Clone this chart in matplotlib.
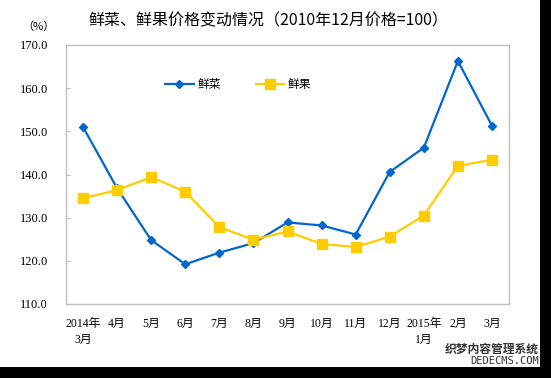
import matplotlib
matplotlib.use("Agg")
import matplotlib.pyplot as plt
from matplotlib.patches import Rectangle
import numpy as np

plt.rcParams["font.family"] = ["Liberation Serif", "Noto Sans CJK SC", "DejaVu Sans"]

months = ["2014年\n3月", "4月", "5月", "6月", "7月", "8月", "9月", "10月",
          "11月", "12月", "2015年\n1月", "2月", "3月"]
vegetables = [151.0, 136.8, 124.8, 119.2, 121.9, 124.1, 128.9, 128.2,
              126.1, 140.6, 146.2, 166.3, 151.3]
fruits = [134.5, 136.4, 139.4, 136.0, 127.8, 124.9, 126.8, 123.9,
          123.2, 125.6, 130.5, 142.0, 143.4]
y_ticks = [110, 120, 130, 140, 150, 160, 170]

W, H = 551, 378
fig = plt.figure(figsize=(W / 100, H / 100), dpi=100)
fig.patch.set_facecolor("white")
ax = fig.add_axes([66 / W, 1 - 304 / H, (509 - 66) / W, (304 - 45) / H])

x = np.arange(len(months))
ax.plot(x, vegetables, color="#0066CC", linewidth=1.6, marker="D",
        markersize=4.5, label="鲜菜")
ax.plot(x, fruits, color="#FFCC00", linewidth=1.6, marker="s",
        markersize=6.5, label="鲜果")

ax.set_xlim(-0.5, len(months) - 0.5)
ax.set_ylim(110, 170)
ax.set_yticks(y_ticks)
ax.set_yticklabels([f"{v:.1f}" for v in y_ticks], fontsize=9)
ax.set_xticks(x)
ax.set_xticklabels(months, fontsize=8.5, linespacing=1.45)
ax.tick_params(axis="x", length=0, pad=10)
ax.tick_params(axis="y", direction="in", length=3, color="#BFBFBF", pad=13)
for side in ax.spines.values():
    side.set_color("#BFBFBF")
    side.set_linewidth(1.0)

ax.legend(loc="upper left", bbox_to_anchor=(0.2, 0.915), ncol=2, frameon=False,
          handlelength=2.4, columnspacing=3.0, handletextpad=0.3,
          prop={"family": ["Noto Sans CJK SC"], "size": 8.5})

fig.text(268 / W, 1 - 21 / H, "鲜菜、鲜果价格变动情况（2010年12月价格=100）",
         ha="center", va="center", fontsize=11.5,
         family=["Noto Sans CJK SC", "DejaVu Sans"])
fig.text(38 / W, 1 - 27 / H, "（%）", ha="center", va="center", fontsize=8,
         family=["Noto Sans CJK SC", "DejaVu Sans"])

# watermark and black frame edges of the source picture
fig.text(539 / W, 1 - 349 / H, "织梦内容管理系统", ha="right", va="center",
         fontsize=8.5, fontweight="bold", color="#333333",
         family=["Noto Sans CJK SC"])
fig.text(539 / W, 1 - 361 / H, "DEDECMS.COM", ha="right", va="center",
         fontsize=7.5, color="#333333", family=["DejaVu Sans Mono"])
fig.patches.append(Rectangle((540 / W, 0), 11 / W, 1, transform=fig.transFigure,
                             facecolor="black", edgecolor="none"))
fig.patches.append(Rectangle((0, 0), 1, 11 / H, transform=fig.transFigure,
                             facecolor="black", edgecolor="none"))

fig.savefig("out.png", dpi=100)
